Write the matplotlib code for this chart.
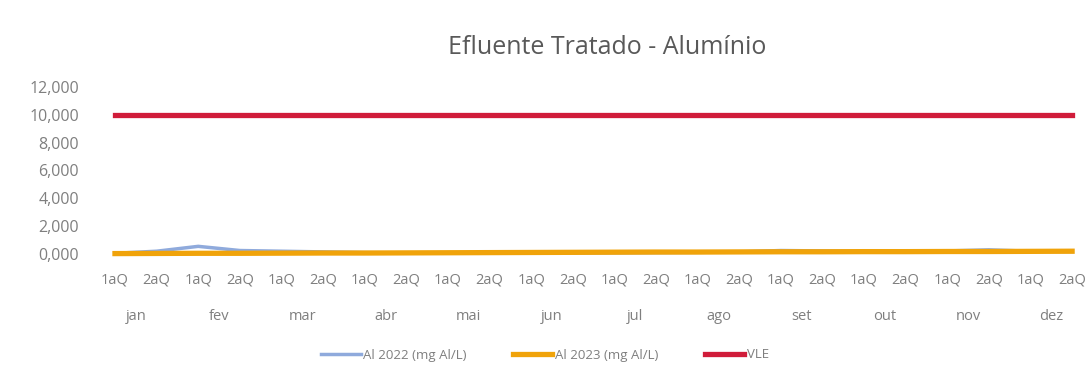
import numpy as np
import matplotlib.pyplot as plt

plt.rcParams['font.family'] = ['Open Sans', 'DejaVu Sans']

# quinzenas (1a e 2a quinzena) de cada mes
meses = ['jan', 'fev', 'mar', 'abr', 'mai', 'jun', 'jul', 'ago', 'set', 'out', 'nov', 'dez']
quinzenas = ['1aQ', '2aQ'] * len(meses)

al_2022 = [0.05, 0.20, 0.55, 0.25, 0.20, 0.15, 0.10, 0.08, 0.07, 0.07, 0.08, 0.08,
           0.09, 0.10, 0.12, 0.15, 0.25, 0.22, 0.18, 0.18, 0.22, 0.30, 0.20, 0.18]
al_2023 = [0.03, 0.04, 0.05, 0.05, 0.06, 0.07, 0.07, 0.08, 0.09, 0.10, 0.11, 0.12,
           0.13, 0.14, 0.14, 0.15, 0.16, 0.16, 0.17, 0.17, 0.18, 0.18, 0.19, 0.20]
vle = [10.0] * 24

grey = '#7f7f7f'

fig = plt.figure(figsize=(10.91, 3.72), dpi=100)
ax = fig.add_axes([100 / 1091, 1 - 254 / 372, 985 / 1091, 167 / 372])

x = np.arange(len(quinzenas))
ax.plot(x, al_2022, color='#8faadc', lw=2.5, label='Al 2022 (mg Al/L)', clip_on=False, zorder=3)
ax.plot(x, al_2023, color='#f0a30a', lw=3.8, label='Al 2023 (mg Al/L)', clip_on=False, zorder=4)
ax.plot(x, vle, color='#d01c3a', lw=3.8, label='VLE', clip_on=False, zorder=5)

ax.set_xlim(-0.36, 23.31)
ax.set_ylim(0, 12)
ax.set_yticks(np.arange(0, 13, 2))
ax.set_yticklabels([f'{v:,.3f}'.replace('.', '#').replace(',', '.').replace('#', ',')
                    for v in np.arange(0, 13, 2)])
ax.tick_params(axis='y', length=0, pad=15, labelsize=11.5, labelcolor=grey)
ax.set_xticks(x)
ax.set_xticklabels(quinzenas)
ax.tick_params(axis='x', length=0, pad=13, labelsize=10.5, labelcolor=grey)
for s in ax.spines.values():
    s.set_visible(False)

# nomes dos meses por baixo de cada par de quinzenas
for i, m in enumerate(meses):
    ax.annotate(m, xy=(2 * i + 0.5, 0), xycoords=('data', 'axes fraction'),
                xytext=(0, -62), textcoords='offset pixels', ha='center', va='center',
                fontsize=10.5, color=grey)

fig.text(607 / 1091, 1 - 47 / 372, 'Efluente Tratado - Alumínio', ha='center', va='center',
         fontsize=18, color='#595959')

fig.legend(loc='center', bbox_to_anchor=(545 / 1091, 1 - 355 / 372), ncol=3, frameon=False,
           fontsize=9.5, labelcolor=grey, handlelength=3.0, handletextpad=0.2, columnspacing=3.5)

fig.savefig('out.png', dpi=100)
